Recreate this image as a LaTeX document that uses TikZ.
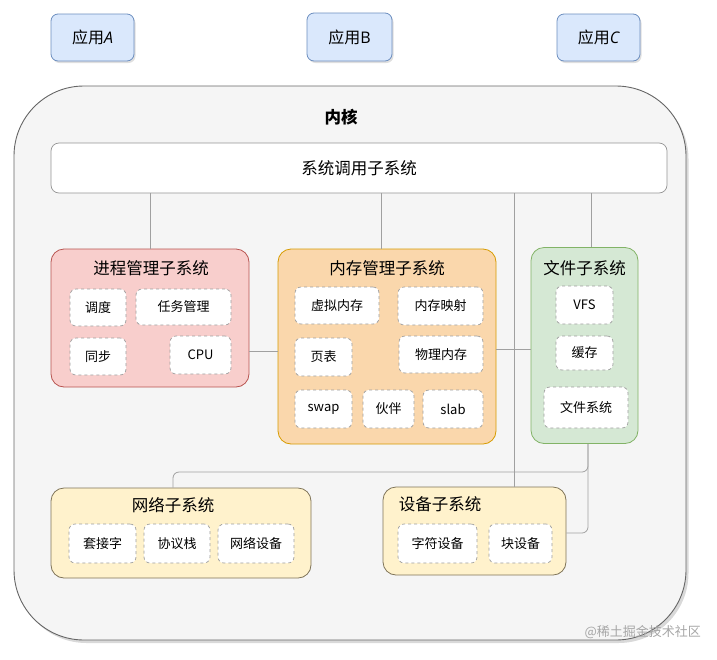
\documentclass[tikz,border=0pt]{standalone}
\usepackage{fontspec}
\setmainfont{Noto Sans CJK SC}
\newfontfamily\latinit{Open Sans}
\usetikzlibrary{shadows}
\definecolor{appfill}{HTML}{DAE8FC}
\definecolor{appline}{HTML}{6C8EBF}
\definecolor{kfill}{HTML}{F5F5F5}
\definecolor{kline}{HTML}{666666}
\definecolor{pfill}{HTML}{F8CECC}
\definecolor{pline}{HTML}{B85450}
\definecolor{mfill}{HTML}{FAD7AC}
\definecolor{mline}{HTML}{D79B00}
\definecolor{ffill}{HTML}{D5E8D4}
\definecolor{fline}{HTML}{82B366}
\definecolor{yfill}{HTML}{FFF2CC}
\definecolor{yline}{HTML}{7F7458}
\definecolor{conn}{HTML}{A0A0A0}
\definecolor{dashc}{HTML}{9E9E9E}
\begin{document}
\begin{tikzpicture}[x=1pt,y=-1pt,
  app/.style={draw=appline,fill=appfill,rounded corners=7pt,line width=0.8pt,
    drop shadow={shadow xshift=1.5pt,shadow yshift=-2pt,opacity=0.25},
    inner sep=0,font=\fontsize{16}{19}\selectfont},
  kern/.style={draw=kline,fill=kfill,rounded corners=70pt,line width=0.9pt,
    drop shadow={shadow xshift=2.5pt,shadow yshift=-3pt,opacity=0.3}},
  sysbox/.style={draw=kline!70,fill=white,rounded corners=8pt,line width=0.7pt,inner sep=0,
    font=\fontsize{16.5}{19}\selectfont},
  sub/.style={rounded corners=13pt,line width=0.8pt,inner sep=0},
  subtitle/.style={inner sep=0,font=\fontsize{16.5}{19}\selectfont},
  item/.style={draw=dashc,dashed,fill=white,rounded corners=6pt,line width=0.7pt,inner sep=0,
    font=\fontsize{13}{15}\selectfont},
  link/.style={draw=conn,line width=0.8pt}
]
\useasboundingbox (0,0) rectangle (717,659);
% apps
\node[app,minimum width=83pt,minimum height=47pt] (appA) at (92.5,37.5) {应用{\latinit\itshape A}};
\node[app,minimum width=85pt,minimum height=48pt] (appB) at (349.5,37) {应用{\latinit B}};
\node[app,minimum width=83pt,minimum height=47pt] (appC) at (598.5,37.5) {应用{\latinit\itshape C}};
% kernel
\path[kern] (14,86) rectangle (686,640);
\node[inner sep=0,font=\fontsize{16.5}{19}\selectfont\bfseries] (ktitle) at (341,117) {内核};
% syscall
\node[sysbox,minimum width=616pt,minimum height=50pt] (sys) at (359,168) {系统调用子系统};
% process
\node[sub,draw=pline,fill=pfill,minimum width=198pt,minimum height=138pt] (proc) at (150,318) {};
\node[subtitle] (proct) at (151,268) {进程管理子系统};
\node[item,minimum width=56pt,minimum height=37pt] (p1) at (98,307.5) {调度};
\node[item,minimum width=95pt,minimum height=36pt] (p2) at (183.5,307) {任务管理};
\node[item,minimum width=56pt,minimum height=37pt] (p3) at (98,356.5) {同步};
\node[item,minimum width=61pt,minimum height=38pt] (p4) at (200.5,355) {CPU};
% memory
\node[sub,draw=mline,fill=mfill,minimum width=218pt,minimum height=195pt] (mem) at (387,346.5) {};
\node[subtitle] (memt) at (387,268) {内存管理子系统};
\node[item,minimum width=84pt,minimum height=37pt] (m1) at (337,305.5) {虚拟内存};
\node[item,minimum width=85pt,minimum height=38pt] (m2) at (440.5,306) {内存映射};
\node[item,minimum width=57pt,minimum height=38pt] (m3) at (323.5,357) {页表};
\node[item,minimum width=84pt,minimum height=37pt] (m4) at (441,354.5) {物理内存};
\node[item,minimum width=57pt,minimum height=38pt] (m5) at (323.5,409) {swap};
\node[item,minimum width=51pt,minimum height=38pt] (m6) at (388.5,409) {伙伴};
\node[item,minimum width=60pt,minimum height=38pt] (m7) at (453,409) {slab};
% file
\node[sub,draw=fline,fill=ffill,minimum width=107pt,minimum height=196pt] (file) at (584.5,345.5) {};
\node[subtitle] (filet) at (584.5,268) {文件子系统};
\node[item,minimum width=57pt,minimum height=38pt] (f1) at (584.5,305) {VFS};
\node[item,minimum width=57pt,minimum height=34pt] (f2) at (584.5,353) {缓存};
\node[item,minimum width=84pt,minimum height=41pt] (f3) at (586,407.5) {文件系统};
% network
\node[sub,draw=yline,fill=yfill,minimum width=260pt,minimum height=90pt] (net) at (181,533) {};
\node[subtitle] (nett) at (173,505) {网络子系统};
\node[item,minimum width=67pt,minimum height=39pt] (n1) at (102.5,543.5) {套接字};
\node[item,minimum width=66pt,minimum height=39pt] (n2) at (177,543.5) {协议栈};
\node[item,minimum width=76pt,minimum height=39pt] (n3) at (256,543.5) {网络设备};
% device
\node[sub,draw=yline,fill=yfill,minimum width=183pt,minimum height=88pt] (dev) at (474.5,531) {};
\node[subtitle] (devt) at (440,504) {设备子系统};
\node[item,minimum width=79pt,minimum height=39pt] (d1) at (437.5,543.5) {字符设备};
\node[item,minimum width=63pt,minimum height=39pt] (d2) at (520.5,543.5) {块设备};
% connectors
\draw[link] (sys.south -| proc.north) -- (proc.north);
\draw[link] (sys.south -| 381,0) -- (mem.north -| 381,0);
\draw[link] (sys.south -| 591,0) -- (file.north -| 591,0);
\draw[link] (sys.south -| 514,0) -- (dev.north -| 514,0);
\draw[link] (proc.east |- 0,351) -- (mem.west |- 0,351);
\draw[link] (mem.east |- 0,349) -- (file.west |- 0,349);
\draw[link,rounded corners=6pt] (file.south -| 588,0) -- (588,472) -- (173,472) -- (net.north -| 173,0);
\draw[link,rounded corners=6pt] (file.south -| 588,0) -- (588,533) -- (dev.east |- 0,533);
% watermark
\node[inner sep=0,text=black!35,font=\fontsize{13}{15}\selectfont,anchor=east] (wm) at (701,632) {@稀土掘金技术社区};
\end{tikzpicture}
\end{document}
